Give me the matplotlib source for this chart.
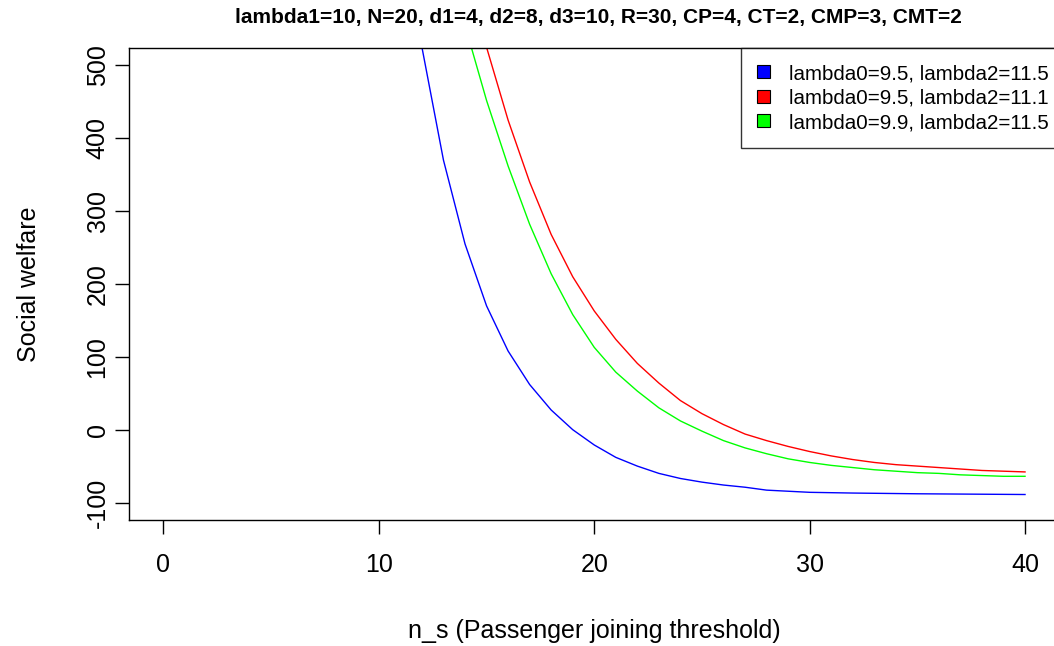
import numpy as np
import matplotlib.pyplot as plt
from matplotlib.patches import Patch

# ----------------------------------------------------------------
#  DATA
# ----------------------------------------------------------------
TITLE = 'lambda1=10, N=20, d1=4, d2=8, d3=10, R=30, CP=4, CT=2, CMP=3, CMT=2'

n_blue = [11, 12, 13, 14, 15, 16, 17, 18, 19, 20, 21, 22, 23, 24, 25, 26,
          27, 28, 30, 32, 35, 40]
sw_blue = [800, 525, 370, 255, 170, 108, 62, 27, 0, -21, -38, -50, -60, -67,
           -72, -76, -79, -83, -86, -87, -88, -89]

n_red = [14, 15, 16, 17, 18, 19, 20, 21, 22, 23, 24, 25, 26, 27, 28, 29, 30,
         31, 32, 33, 34, 35, 36, 37, 38, 39, 40]
sw_red = [650, 525, 425, 340, 268, 210, 163, 124, 91, 64, 40, 22, 7, -6, -15,
          -23, -30, -36, -41, -45, -48, -50, -52, -54, -56, -57, -58]

n_green = [13, 14, 15, 16, 17, 18, 19, 20, 21, 22, 23, 24, 25, 26, 27, 28, 29,
           30, 31, 32, 33, 34, 35, 36, 37, 38, 39, 40]
sw_green = [680, 555, 452, 362, 282, 214, 158, 113, 79, 53, 30, 12, -2, -15,
            -25, -33, -40, -45, -49, -52, -55, -57, -59, -60, -62, -63, -64, -64]

labels = ['lambda0=9.5, lambda2=11.5',
          'lambda0=9.5, lambda2=11.1',
          'lambda0=9.9, lambda2=11.5']
colors = ['#0000FF', '#FF0000', '#00FF00']

# ----------------------------------------------------------------
#  PLOT  (R base-graphics look)
# ----------------------------------------------------------------
plt.rcParams['font.family'] = ['Liberation Sans', 'DejaVu Sans']
plt.rcParams['axes.unicode_minus'] = False

W, H = 1054, 646
fig = plt.figure(figsize=(W / 100, H / 100), dpi=100)
# right edge of the plot box lies just outside the picture, as in the reference
ax = fig.add_axes([129 / W, (H - 520) / H, (1059.5 - 129) / W, (520 - 48) / H])

ax.plot(n_blue, sw_blue, color=colors[0], lw=1.0)
ax.plot(n_red, sw_red, color=colors[1], lw=1.0)
ax.plot(n_green, sw_green, color=colors[2], lw=1.0)

ax.set_xlim(-1.6, 41.6)
ax.set_ylim(-124, 524)
ax.set_xticks([0, 10, 20, 30, 40])
ax.set_yticks([-100, 0, 100, 200, 300, 400, 500])
ax.tick_params(direction='out', length=10, width=1.0, labelsize=18)
ax.tick_params(axis='x', pad=14)
ax.tick_params(axis='y', pad=4)
for lab in ax.get_yticklabels():
    lab.set_rotation(90)
    lab.set_va('center')
for sp in ax.spines.values():
    sp.set_linewidth(1.0)

ax.set_xlabel('n_s (Passenger joining threshold)', fontsize=18, labelpad=30)
ax.set_ylabel('Social welfare', fontsize=18, labelpad=32)
fig.text(0.568, 1 - 18 / H, TITLE, ha='center', va='center',
         fontsize=15, fontweight='bold')

handles = [Patch(facecolor=c, edgecolor='black', lw=0.8) for c in colors]
leg = ax.legend(handles, labels, loc='upper right', bbox_to_anchor=(1.0054, 1),
                borderaxespad=0, fontsize=14.8, frameon=True, fancybox=False,
                handlelength=0.63, handleheight=0.58, handletextpad=0.92,
                borderpad=0.78, labelspacing=0.27)
leg.get_frame().set_edgecolor('black')
leg.get_frame().set_linewidth(1.0)

fig.savefig('out.png', dpi=100)
